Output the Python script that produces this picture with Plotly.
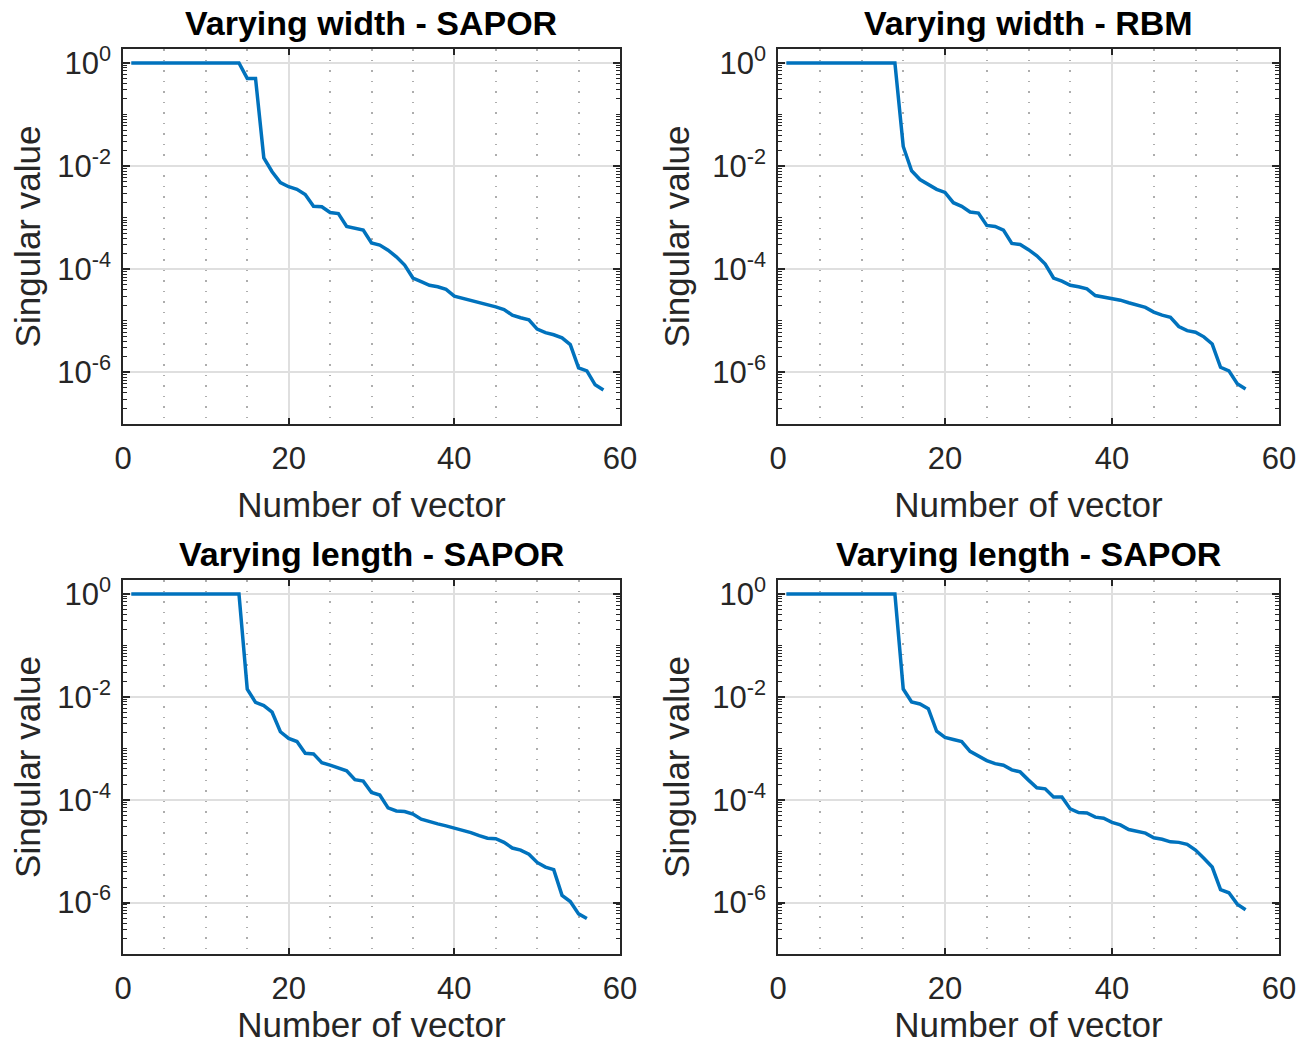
import numpy as np
import plotly.graph_objects as go

# log10 of the singular values (first 14 are 1.0)
vec_index_tl = list(range(1, 59))
log_sv_tl = [0] * 14 + [
    -0.30, -0.30, -1.84, -2.11, -2.32, -2.40, -2.45, -2.55, -2.78, -2.79,
    -2.90, -2.92, -3.17, -3.20, -3.24, -3.49, -3.53, -3.63, -3.76, -3.92,
    -4.17, -4.24, -4.31, -4.34, -4.39, -4.52, -4.56, -4.60, -4.64, -4.68,
    -4.73, -4.78, -4.89, -4.94, -4.98, -5.16, -5.23, -5.27, -5.33, -5.46,
    -5.91, -5.97, -6.24, -6.34]

vec_index_tr = list(range(1, 57))
log_sv_tr = [0] * 14 + [
    -1.62, -2.09, -2.26, -2.35, -2.45, -2.51, -2.71, -2.78, -2.89, -2.91,
    -3.15, -3.17, -3.24, -3.50, -3.52, -3.62, -3.74, -3.90, -4.17, -4.23,
    -4.31, -4.34, -4.38, -4.51, -4.54, -4.56, -4.60, -4.65, -4.70, -4.74,
    -4.83, -4.89, -4.93, -5.11, -5.19, -5.22, -5.31, -5.45, -5.90, -5.97,
    -6.22, -6.32]

vec_index_bl = list(range(1, 57))
log_sv_bl = [0] * 14 + [
    -1.85, -2.11, -2.17, -2.30, -2.68, -2.81, -2.87, -3.10, -3.11, -3.28,
    -3.33, -3.39, -3.44, -3.61, -3.64, -3.86, -3.91, -4.16, -4.22, -4.23,
    -4.28, -4.38, -4.43, -4.47, -4.51, -4.55, -4.60, -4.64, -4.70, -4.75,
    -4.76, -4.83, -4.94, -4.98, -5.06, -5.22, -5.31, -5.36, -5.86, -5.98,
    -6.22, -6.31]

vec_index_br = list(range(1, 57))
log_sv_br = [0] * 14 + [
    -1.85, -2.10, -2.14, -2.23, -2.67, -2.79, -2.83, -2.87, -3.06, -3.15,
    -3.24, -3.30, -3.33, -3.42, -3.46, -3.62, -3.77, -3.79, -3.95, -3.95,
    -4.18, -4.25, -4.26, -4.34, -4.36, -4.44, -4.49, -4.58, -4.62, -4.65,
    -4.74, -4.77, -4.82, -4.83, -4.87, -4.98, -5.14, -5.31, -5.75, -5.81,
    -6.03, -6.14]

titles = ["Varying width - SAPOR", "Varying width - RBM",
          "Varying length - SAPOR", "Varying length - SAPOR"]
x_ticks = [0, 20, 40, 60]
y_ticks = [1, 1e-2, 1e-4, 1e-6]
y_ticktext = ["10<sup>0</sup>", "10<sup>-2</sup>", "10<sup>-4</sup>", "10<sup>-6</sup>"]

PAD = 8  # page body margin
W, H = 1309 - 2 * PAD, 1052 - 2 * PAD
FONT = "Liberation Sans, Arial, sans-serif"
TXT = "#262626"
LINE = "#0072BD"

# plot boxes in window pixels: (left, right, top, bottom)
boxes = [(123, 620, 49, 424), (778, 1279, 49, 424),
         (123, 620, 580, 954), (778, 1279, 580, 954)]
series = [(vec_index_tl, log_sv_tl), (vec_index_tr, log_sv_tr),
          (vec_index_bl, log_sv_bl), (vec_index_br, log_sv_br)]

minor_y = [k * 10.0 ** e for e in range(-7, 1) for k in range(1, 10)
           if not (k == 1 and e % 2 == 0)]

fig = go.Figure()
layout = dict(width=W, height=H, margin=dict(l=0, r=0, t=0, b=0),
              paper_bgcolor="white", plot_bgcolor="white",
              showlegend=False, font=dict(family=FONT, color=TXT))
annotations = []

for i, ((l, r, t, b), (xs, ys)) in enumerate(zip(boxes, series)):
    l, r, t, b = l - PAD, r - PAD, t - PAD, b - PAD
    n = "" if i == 0 else str(i + 1)
    fig.add_trace(go.Scatter(
        x=xs, y=10 ** np.array(ys), mode="lines",
        line=dict(color=LINE, width=3.5),
        xaxis="x" + n, yaxis="y" + n))
    layout["xaxis" + n] = dict(
        domain=[l / W, r / W], anchor="y" + n, range=[0, 60],
        tickvals=x_ticks, ticks="inside", ticklen=6, tickwidth=1.5,
        tickcolor=TXT, showline=True, linecolor=TXT, linewidth=1.5,
        mirror="ticks", showgrid=True, gridcolor="#dfdfdf", gridwidth=1.5,
        zeroline=False, tickfont=dict(size=31, color=TXT),
        ticklabelstandoff=6, automargin=False,
        minor=dict(dtick=5, tick0=0, showgrid=True, gridcolor="#adadad",
                   griddash="1.5px,9px", gridwidth=1.5, ticks=""),
        title=dict(text="Number of vector", font=dict(size=35, color=TXT),
                   standoff=18))
    layout["yaxis" + n] = dict(
        domain=[1 - b / H, 1 - t / H], anchor="x" + n, type="log",
        range=[-7, 0.27], tickmode="array", tickvals=y_ticks,
        ticktext=y_ticktext, ticks="inside", ticklen=7, tickwidth=1.5,
        tickcolor=TXT, showline=True, linecolor=TXT, linewidth=1.5,
        mirror="ticks", showgrid=True, gridcolor="#dfdfdf", gridwidth=1.5,
        zeroline=False, tickfont=dict(size=31, color=TXT),
        ticklabelstandoff=4, automargin=False,
        minor=dict(tickmode="array", tickvals=minor_y, ticks="inside",
                   ticklen=4, tickwidth=1.2, tickcolor=TXT, showgrid=False),
        title=dict(text="Singular value", font=dict(size=35, color=TXT),
                   standoff=12))
    annotations.append(dict(
        text="<b>" + titles[i] + "</b>", x=(l + r) / 2 / W, y=1 - (t - 26) / H,
        xref="paper", yref="paper", showarrow=False, xanchor="center",
        yanchor="middle", borderpad=0,
        font=dict(size=34, color="black", family=FONT)))

layout["annotations"] = annotations
fig.update_layout(**layout)
fig.write_html("out.html")
